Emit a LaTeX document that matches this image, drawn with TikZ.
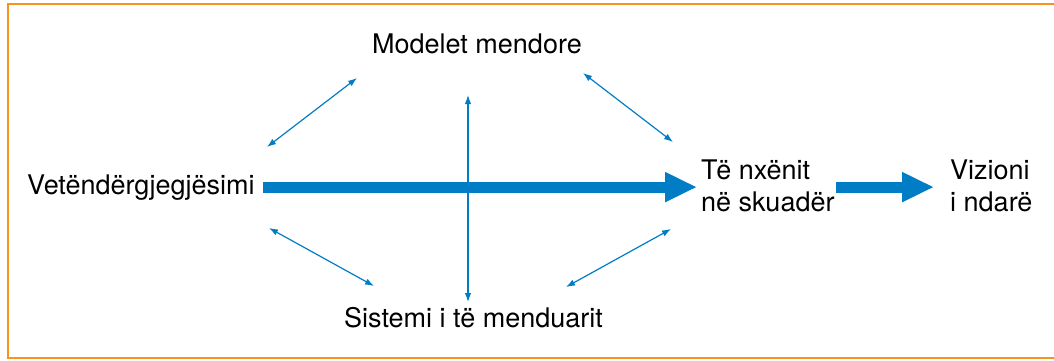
\documentclass[tikz,border=0pt]{standalone}
\usepackage{fontspec}
\setmainfont{TeX Gyre Heros}
\usetikzlibrary{arrows.meta,positioning}
\definecolor{diagblue}{RGB}{0,125,197}
\definecolor{frameorange}{RGB}{247,148,30}
\begin{document}
\begin{tikzpicture}[x=1pt, y=-1pt]
% one unit = one pixel of the reference, y runs downward

\tikzstyle{txt}  = [inner sep=0pt, font=\fontsize{27}{32}\selectfont, align=left] % labels
\tikzstyle{thin} = [line width=1.2pt, color=diagblue, {Latex[length=9pt,width=6.5pt]}-{Latex[length=9pt,width=6.5pt]}] % double arrow
\tikzstyle{fat}  = [line width=11pt, color=diagblue, -{Triangle[length=32pt,width=28pt]}] % main flow arrow

% canvas and orange frame (open on the right)
\useasboundingbox (0,0) rectangle (1054,360);
\draw[frameorange, line width=1.5pt] (1054,4) -- (8,4) -- (8,358) -- (1054,358);

% labels (two-line nodes sit on the baseline of their last line)
\node(vet)[txt, anchor=base west] at (27,194){Vetëndërgjegjësimi};
\node(mm)[txt, anchor=base west] at (372,53){Modelet mendore};
\node(sis)[txt, anchor=base west] at (344,327){Sistemi i të menduarit};
\node(tn)[txt, anchor=base west] at (701,211){Të nxënit\\në skuadër};
\node(viz)[txt, anchor=base west] at (950,211){Vizioni\\i ndarë};

% main flow
\draw[fat, shorten <=8pt, shorten >=4pt](vet.east)--(vet.east -| tn.west);
\draw[fat, shorten <=1pt, shorten >=16pt](vet.east -| tn.east)--(vet.east -| viz.west);

% ends of the thin double arrows
\coordinate(vm1) at (267,147); \coordinate(vm2) at (357,78);
\coordinate(mt1) at (583,73);  \coordinate(mt2) at (673,142);
\coordinate(vs1) at (269,228); \coordinate(vs2) at (374,286);
\coordinate(ts1) at (671,229); \coordinate(ts2) at (566,287);
\coordinate(ms1) at (468,95);  \coordinate(ms2) at (468,302);

% thin double arrows
\draw[thin](vm1)--(vm2);
\draw[thin](mt1)--(mt2);
\draw[thin](vs1)--(vs2);
\draw[thin](ts1)--(ts2);
\draw[thin](ms1)--(ms2);
\end{tikzpicture}
\end{document}
